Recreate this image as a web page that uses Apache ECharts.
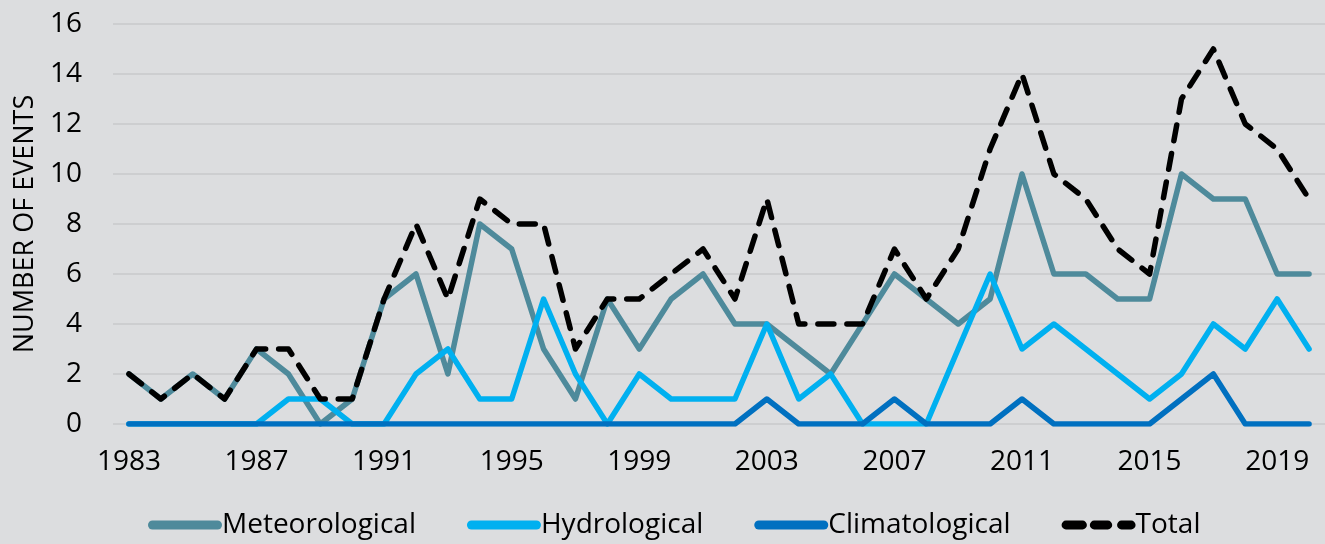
<!DOCTYPE html>
<html>
<head>
<meta charset="utf-8">
<script src="https://cdn.jsdelivr.net/npm/echarts@6/dist/echarts.min.js"></script>
<style>
  html, body { margin: 0; padding: 0; background: #dcdddf; }
  #chart { width: 1325px; height: 544px; }
</style>
</head>
<body>
<div id="chart"></div>
<script>
const years = []
for (let y = 1983; y <= 2020; y++) years.push(String(y))

const meteorological = [2, 1, 2, 1, 3, 2, 0, 1, 5, 6, 2, 8, 7, 3, 1, 5, 3, 5, 6, 4, 4, 3, 2, 4, 6, 5, 4, 5, 10, 6, 6, 5, 5, 10, 9, 9, 6, 6]
const hydrological = [0, 0, 0, 0, 0, 1, 1, 0, 0, 2, 3, 1, 1, 5, 2, 0, 2, 1, 1, 1, 4, 1, 2, 0, 0, 0, 3, 6, 3, 4, 3, 2, 1, 2, 4, 3, 5, 3]
const climatological = [0, 0, 0, 0, 0, 0, 0, 0, 0, 0, 0, 0, 0, 0, 0, 0, 0, 0, 0, 0, 1, 0, 0, 0, 1, 0, 0, 0, 1, 0, 0, 0, 0, 1, 2, 0, 0, 0]
const total = [2, 1, 2, 1, 3, 3, 1, 1, 5, 8, 5, 9, 8, 8, 3, 5, 5, 6, 7, 5, 9, 4, 4, 4, 7, 5, 7, 11, 14, 10, 9, 7, 6, 13, 15, 12, 11, 9]

const font = 'Open Sans'
const chart = echarts.init(document.getElementById('chart'))

// rounded bar for legend icons
function pill(x1, x2) {
  const r = 4.5
  return `M${x1 + r},0 H${x2 - r} A${r},${r} 0 0 1 ${x2 - r},9 H${x1 + r} A${r},${r} 0 0 1 ${x1 + r},0 Z `
}
const solidIcon = 'path://' + pill(0, 74)
const dashIcon = 'path://' + pill(0, 26) + pill(29, 52) + pill(57, 76)

function solid(name, data, color) {
  return {
    name, type: 'line', data,
    symbol: 'none',
    lineStyle: { color, width: 5.5, cap: 'round', join: 'round' },
    itemStyle: { color }
  }
}

chart.setOption({
  backgroundColor: '#dcdddf',
  animation: false,
  textStyle: { fontFamily: font },
  grid: { left: 113, right: 0, top: 24, bottom: 120 },
  legend: {
    top: 511,
    left: 148,
    padding: 0,
    itemWidth: 74,
    itemHeight: 9,
    itemGap: 51,
    textStyle: { fontSize: 28, color: '#000', fontFamily: font, padding: [0, 0, 0, -5] },
    data: [
      { name: 'Meteorological', icon: solidIcon },
      { name: 'Hydrological', icon: solidIcon },
      { name: 'Climatological', icon: solidIcon },
      { name: 'Total', icon: dashIcon }
    ]
  },
  xAxis: {
    type: 'category',
    data: years,
    boundaryGap: true,
    axisLine: { show: false },
    axisTick: { show: false },
    axisLabel: { interval: 3, color: '#000', fontSize: 28, margin: 24 }
  },
  yAxis: {
    type: 'value',
    min: 0, max: 16, interval: 2,
    name: 'NUMBER OF EVENTS',
    nameLocation: 'middle',
    nameRotate: 90,
    nameGap: 74,
    nameTextStyle: { fontSize: 27, color: '#000' },
    axisLine: { show: false },
    axisTick: { show: false },
    axisLabel: { color: '#000', fontSize: 28, margin: 31 },
    splitLine: { lineStyle: { color: '#c8c9cb', width: 1.5 } }
  },
  series: [
    solid('Meteorological', meteorological, '#4e8a9b'),
    solid('Hydrological', hydrological, '#00b0f0'),
    solid('Climatological', climatological, '#0070c0'),
    {
      name: 'Total', type: 'line', data: total,
      symbol: 'none',
      lineStyle: { color: '#000', width: 5.5, type: [16, 13], cap: 'round', join: 'round' },
      itemStyle: { color: '#000' }
    }
  ]
})
</script>
</body>
</html>
